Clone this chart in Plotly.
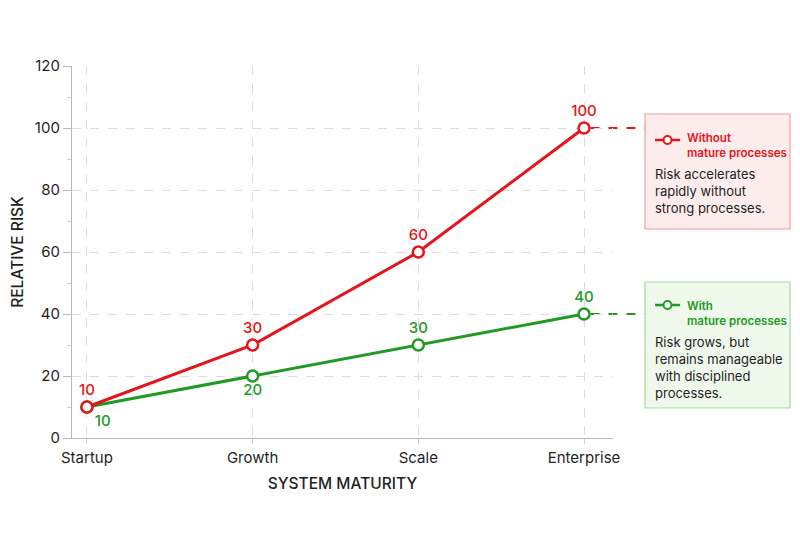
import plotly.graph_objects as go

stages = ["Startup", "Growth", "Scale", "Enterprise"]
risk_without = [10, 30, 60, 100]
risk_with = [10, 20, 30, 40]
y_ticks = [0, 20, 40, 60, 80, 100, 120]

RED = "#e3161b"
GREEN = "#219a24"
DARK = "#1f1f1f"
FONT = "Inter"

X_RANGE = [-0.09, 3.175]

fig = go.Figure()

fig.add_trace(go.Scatter(
    x=stages, y=risk_with, mode="lines+markers+text",
    line=dict(color=GREEN, width=3),
    marker=dict(size=11, color="white", line=dict(color=GREEN, width=2.5)),
    text=[str(v) for v in risk_with],
    textposition=["bottom right", "bottom center", "top center", "top center"],
    textfont=dict(color=GREEN, size=15, family=FONT, weight=500),
    showlegend=False, cliponaxis=False,
))
fig.add_trace(go.Scatter(
    x=stages, y=risk_without, mode="lines+markers+text",
    line=dict(color=RED, width=3),
    marker=dict(size=11, color="white", line=dict(color=RED, width=2.5)),
    text=[str(v) for v in risk_without],
    textposition="top center",
    textfont=dict(color=RED, size=15, family=FONT, weight=500),
    showlegend=False, cliponaxis=False,
))

L, R, T, B = 72, 187, 66, 95
W, H = 800 - L - R, 533 - T - B

def px(x):
    return (x - L) / W

def py(y):
    return (533 - B - y) / H

def cat_paper(i):
    return (i - X_RANGE[0]) / (X_RANGE[1] - X_RANGE[0])

shapes = []
annotations = []

def callout(color, fill, border, y_val, top, bottom, title, body, icon_y):
    shapes.append(dict(type="line", xref="paper", yref="y",
                       x0=cat_paper(len(stages) - 1) + 0.012, x1=px(645),
                       y0=y_val, y1=y_val, layer="below",
                       line=dict(color=color, width=1.8, dash="dash")))
    shapes.append(dict(type="rect", xref="paper", yref="paper",
                       x0=px(645), x1=px(790), y0=py(bottom), y1=py(top),
                       fillcolor=fill, line=dict(color=border, width=1.2)))
    shapes.append(dict(type="line", xref="paper", yref="paper",
                       x0=px(655), x1=px(680), y0=py(icon_y), y1=py(icon_y),
                       line=dict(color=color, width=2.5)))
    shapes.append(dict(type="circle", xref="paper", yref="paper",
                       xsizemode="pixel", ysizemode="pixel",
                       xanchor=px(667.5), yanchor=py(icon_y),
                       x0=-4, x1=4, y0=-4, y1=4,
                       fillcolor="white", line=dict(color=color, width=2)))
    annotations.append(dict(xref="paper", yref="paper", x=px(685), y=py(top + 15),
                            xanchor="left", yanchor="top", align="left", showarrow=False,
                            text=title,
                            font=dict(color=color, size=11.5, family=FONT, weight=600)))
    annotations.append(dict(xref="paper", yref="paper", x=px(653), y=py(top + 50),
                            xanchor="left", yanchor="top", align="left", showarrow=False,
                            text=body, font=dict(color=DARK, size=13, family=FONT)))

callout(RED, "#fdecec", "#f2a0a0", risk_without[-1], 114, 229,
        "Without<br>mature processes",
        "Risk accelerates<br>rapidly without<br>strong processes.", 140)
callout(GREEN, "#eef9ec", "#a6dba0", risk_with[-1], 282, 408,
        "With<br>mature processes",
        "Risk grows, but<br>remains manageable<br>with disciplined<br>processes.", 305)

fig.update_layout(
    width=800, height=533,
    margin=dict(l=L, r=R, t=T, b=B, autoexpand=False),
    paper_bgcolor="white", plot_bgcolor="white",
    font=dict(family=FONT, color=DARK, size=13),
    shapes=shapes, annotations=annotations,
    xaxis=dict(
        type="category", range=X_RANGE, automargin=False,
        showgrid=True, gridcolor="#dcdcdc", griddash="dash", gridwidth=1,
        showline=True, linecolor="#b8b8b8", linewidth=1.2,
        ticks="outside", ticklen=5, tickcolor="#d0d0d0",
        ticklabelstandoff=1,
        tickfont=dict(size=15, color=DARK),
        title=dict(text="SYSTEM MATURITY", font=dict(size=15.5, color=DARK, weight=500), standoff=12),
        zeroline=False,
    ),
    yaxis=dict(
        range=[0, 120], tickvals=y_ticks, automargin=False,
        showgrid=True, gridcolor="#dcdcdc", griddash="dash", gridwidth=1,
        showline=True, linecolor="#b8b8b8", linewidth=1.2,
        ticks="outside", ticklen=8, tickcolor="#b8b8b8",
        minor=dict(dtick=10, ticks="outside", ticklen=4, tickcolor="#d0d0d0", showgrid=False),
        tickfont=dict(size=15, color=DARK),
        title=dict(text="RELATIVE RISK", font=dict(size=15.5, color=DARK, weight=500), standoff=7),
        zeroline=False,
    ),
)

fig.write_html("out.html")
